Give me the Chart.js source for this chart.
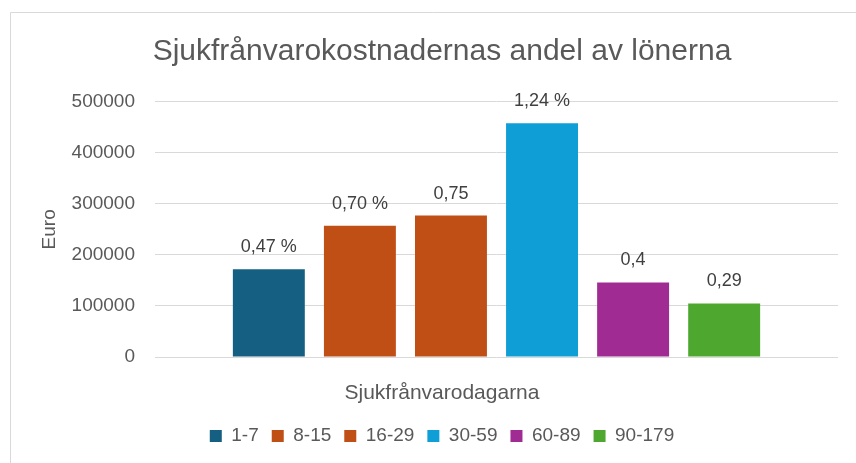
<!DOCTYPE html>
<html>
<head>
<meta charset="utf-8">
<script src="https://cdn.jsdelivr.net/npm/chart.js@4/dist/chart.umd.min.js"></script>
<style>
  html, body { margin: 0; padding: 0; background: #fff; overflow: hidden; }
  .chart-wrap { position: relative; width: 856px; height: 463px; }
</style>
</head>
<body>
<div class="chart-wrap"><canvas id="sickChart"></canvas></div>
<script>
// ---------------------------Data------------------------------------------------
const categories = ['1-7', '8-15', '16-29', '30-59', '60-89', '90-179'];
const costs = [172000, 257000, 277000, 458000, 146000, 105000];   // Euro
const shareLabels = ['0,47 %', '0,70 %', '0,75', '1,24 %', '0,4', '0,29'];
const yTicks = [0, 100000, 200000, 300000, 400000, 500000];

const barColors = ['#156082', '#C04F15', '#C04F15', '#0F9ED5', '#A02B93', '#4EA72E'];
const fontFamily = "'Liberation Sans', Arial, sans-serif";
// ----------------------------------------------------------------------------------

// Light frame round the chart (left and top edges are visible in the crop)
const framePlugin = {
  id: 'frame',
  beforeDraw(chart) {
    const c = chart.ctx;
    c.save();
    c.strokeStyle = '#d9d9d9';
    c.lineWidth = 1;
    c.beginPath();
    c.moveTo(10.5, chart.height);
    c.lineTo(10.5, 12.5);
    c.lineTo(chart.width, 12.5);
    c.stroke();
    c.restore();
  }
};

// Percentage labels above each bar
const barLabelPlugin = {
  id: 'barLabels',
  afterDatasetsDraw(chart) {
    const c = chart.ctx;
    c.save();
    c.font = "18px " + fontFamily;
    c.fillStyle = '#404040';
    c.textAlign = 'center';
    c.textBaseline = 'alphabetic';
    chart.data.datasets.forEach((ds, i) => {
      const bar = chart.getDatasetMeta(i).data[0];
      if (bar) c.fillText(shareLabels[i], bar.x, bar.y - 17);
    });
    c.restore();
  }
};

const ctx = document.getElementById('sickChart').getContext('2d');

const sickChart = new Chart(ctx, {
  type: 'bar',
  data: {
    labels: [''],
    datasets: categories.map((cat, i) => ({
      label: cat,
      data: [costs[i]],
      backgroundColor: barColors[i],
      borderWidth: 0,
      categoryPercentage: 0.8,
      barPercentage: 0.79
    }))
  },
  options: {
    responsive: true,
    maintainAspectRatio: false,
    animation: false,
    layout: {
      padding: { top: 15, left: 46, right: 18, bottom: 7.5 }
    },
    scales: {
      x: {
        grid: { display: false },
        border: { display: false },
        ticks: { display: false }
      },
      y: {
        min: 0,
        max: 500000,
        afterBuildTicks: (scale) => {
          scale.ticks = yTicks.map(v => ({ value: v }));
        },
        afterFit: (scale) => { scale.width = 109; },
        grid: { color: '#d9d9d9', drawTicks: false },
        border: { display: false },
        ticks: {
          padding: 20,
          color: '#595959',
          font: { family: fontFamily, size: 19 },
          callback: (v) => String(v)
        },
        title: {
          display: true,
          text: 'Euro',
          color: '#595959',
          font: { family: fontFamily, size: 19 },
          padding: { top: -8, bottom: 0 }
        }
      }
    },
    plugins: {
      title: {
        display: true,
        text: 'Sjukfrånvarokostnadernas andel av lönerna',
        color: '#595959',
        font: { family: fontFamily, size: 30, weight: 'normal' },
        padding: { top: 19, bottom: 31.7 }
      },
      subtitle: {
        display: true,
        text: 'Sjukfrånvarodagarna',
        position: 'bottom',
        weight: 500,
        color: '#595959',
        font: { family: fontFamily, size: 21, weight: 'normal' },
        padding: { top: 15.4, bottom: 7.9 }
      },
      legend: {
        position: 'bottom',
        labels: {
          boxWidth: 12,
          boxHeight: 12,
          padding: 13,
          color: '#595959',
          font: { family: fontFamily, size: 19 }
        }
      },
      tooltip: { enabled: false }
    }
  },
  plugins: [framePlugin, barLabelPlugin]
});
</script>
</body>
</html>
